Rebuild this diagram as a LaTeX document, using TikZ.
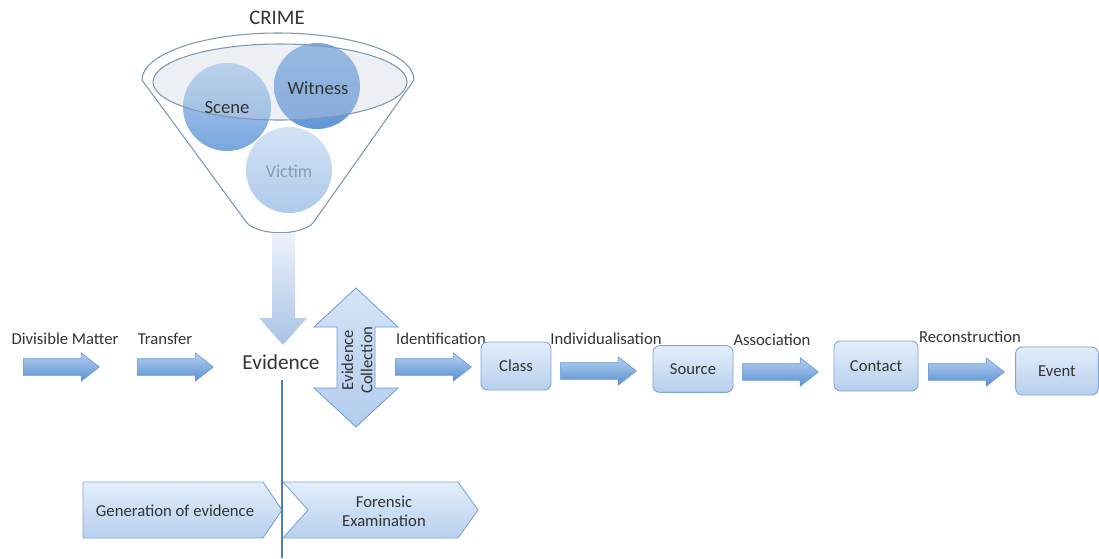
\documentclass[tikz,border=0pt]{standalone}
\usepackage{fontspec}
\setmainfont{Carlito}
\usetikzlibrary{shapes.arrows}
\definecolor{txt}{HTML}{333333}
\definecolor{arrtop}{HTML}{B5D0F0}
\definecolor{arrbot}{HTML}{5A8FD3}
\definecolor{arredge}{HTML}{6F9BD3}
\definecolor{boxtop}{HTML}{E3EEFA}
\definecolor{boxbot}{HTML}{B7CFEE}
\definecolor{boxedge}{HTML}{82A6D4}
\definecolor{funnelc}{HTML}{7E98B4}
\definecolor{vline}{HTML}{4F7FB8}
\definecolor{victop}{HTML}{D3E3F6}
\definecolor{vicbot}{HTML}{AFCAEC}
\definecolor{sctop}{HTML}{B3CFF0}
\definecolor{scbot}{HTML}{79A6DE}
\definecolor{wtop}{HTML}{7EA9E0}
\definecolor{wbot}{HTML}{6497D8}
\definecolor{ellfill}{HTML}{C9D6E3}
\definecolor{victxt}{HTML}{8C9BB0}
\definecolor{dtop}{HTML}{EEF3FA}
\definecolor{dbot}{HTML}{A9C3E6}
\definecolor{ctop}{HTML}{D5E4F6}
\definecolor{cbot}{HTML}{B3CDEE}
\begin{document}
\begin{tikzpicture}[x=0.75pt,y=-0.75pt,
  lbl/.style={text=txt,font=\fontsize{12.5pt}{14pt}\selectfont,inner sep=1pt},
  rarrow/.style={single arrow,anchor=tail,draw=arredge,line width=0.5pt,top color=arrtop,bottom color=arrbot,
    minimum height=57pt,inner xsep=0pt,inner ysep=6pt,text height=0pt,text depth=0pt,
    single arrow head extend=4.4pt,single arrow tip angle=76},
  stage/.style={draw=boxedge,line width=0.7pt,rounded corners=5pt,top color=boxtop,bottom color=boxbot,
    text=txt,font=\fontsize{12.5pt}{14pt}\selectfont,inner sep=0pt},
  chev/.style={draw=boxedge,line width=0.7pt,top color=boxtop,bottom color=boxbot},
  ball/.style={draw=none},
]
\useasboundingbox (0,0) rectangle (1099,558);
\fill[white] (0,0) rectangle (1099,558);

% funnel
\draw[funnelc,line width=0.8pt,fill=white] (142,80) arc[start angle=180,end angle=360,x radius=136,y radius=47]
  -- (313,223) .. controls (300,236) and (260,236) .. (247,223) -- cycle;
\shade[ball,top color=victop,bottom color=vicbot] (289,170) circle (43);
\shade[ball,top color=sctop,bottom color=scbot] (227,107) circle (44);
\shade[ball,top color=wtop,bottom color=wbot] (317,86) circle (43);
\filldraw[draw=funnelc,line width=0.8pt,fill=ellfill,fill opacity=0.35] (280,82) ellipse [x radius=127,y radius=38];
\node[text=txt,font=\fontsize{15.5pt}{18pt}\selectfont] (crime) at (277,18) {CRIME};
\node[text=txt,font=\fontsize{14pt}{16pt}\selectfont] (scene) at (227,108) {Scene};
\node[text=txt,font=\fontsize{14pt}{16pt}\selectfont] (witness) at (318,88) {Witness};
\node[text=victxt,font=\fontsize{13.5pt}{16pt}\selectfont] (victim) at (289,171) {Victim};

% down arrow from funnel
\shade[top color=dtop,bottom color=dbot] (272,233) -- (295,233) -- (295,318) -- (307,318)
  -- (283,345) -- (259,318) -- (272,318) -- cycle;

% evidence
\node[text=txt,font=\fontsize{16pt}{18pt}\selectfont] (evidence) at (281,362) {Evidence};
\coordinate (vtop) at (282,380);
\coordinate (vbot) at (282,558);

% evidence collection double arrow
\draw[draw=arredge,line width=0.6pt,top color=ctop,bottom color=cbot]
  (356,288) -- (398,327) -- (375,327) -- (375,388) -- (398,388) -- (356,427) -- (314,388)
  -- (337,388) -- (337,327) -- (314,327) -- cycle;
\node[rotate=90,align=center,text=txt,font=\fontsize{12.5pt}{14.5pt}\selectfont] (coll) at (357,360) {Evidence\\Collection};

% small arrows
\node[rarrow] (a1) at (23,367) {};
\node[rarrow] (a2) at (137,367) {};
\node[rarrow] (a3) at (395,367) {};
\node[rarrow] (a4) at (560,371) {};
\node[rarrow] (a5) at (742,372) {};
\node[rarrow] (a6) at (928,372) {};

\node[lbl] (l1) at (65,339) {Divisible Matter};
\node[lbl] (l2) at (165,339) {Transfer};
\node[lbl] (l3) at (441,339) {Identification};
\node[lbl] (l4) at (606,339) {Individualisation};
\node[lbl] (l5) at (772,340) {Association};
\node[lbl] (l6) at (970,337) {Reconstruction};

% stage boxes
\node[stage,minimum width=52.5pt,minimum height=36pt] (class) at (516,366) {Class};
\node[stage,minimum width=60pt,minimum height=35pt] (source) at (693,369) {Source};
\node[stage,minimum width=63pt,minimum height=37.5pt] (contact) at (876,366) {Contact};
\node[stage,minimum width=62pt,minimum height=36pt] (event) at (1057,371) {Event};

% chevrons
\draw[chev] (83,482) -- (263,482) -- (282,510) -- (263,538) -- (83,538) -- cycle;
\draw[chev] (283,482) -- (458,482) -- (478,510) -- (458,538) -- (283,538) -- (308,510) -- cycle;
\node[text=txt,font=\fontsize{12.5pt}{14pt}\selectfont] (gen) at (175,511) {Generation of evidence};
\node[text=txt,align=center,font=\fontsize{12.5pt}{14.5pt}\selectfont] (forensic) at (384,511) {Forensic\\Examination};

% vertical line
\draw[vline,line width=1.6pt] (vtop) -- (vbot);
\end{tikzpicture}
\end{document}
